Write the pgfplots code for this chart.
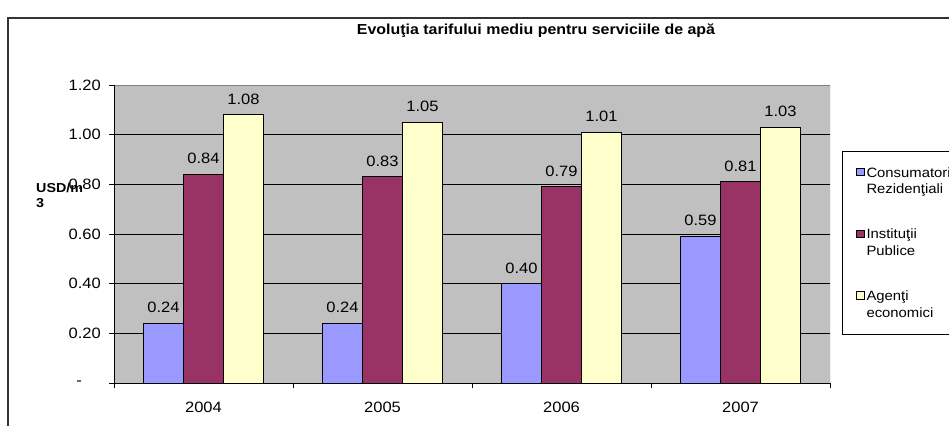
\documentclass[border=0pt]{standalone}
\usepackage{fontspec}
\setmainfont{Liberation Sans}[FakeStretch=1.1]
\usepackage{pgfplots}
\usepackage{pgfplotstable}
\pgfplotsset{compat=1.18}

\definecolor{rezid}{HTML}{9999FF}
\definecolor{inst}{HTML}{993366}
\definecolor{agent}{HTML}{FFFFCC}
\definecolor{plotbg}{HTML}{C0C0C0}
\definecolor{plotframe}{HTML}{808080}

\newcommand\tickfont{\fontsize{15bp}{18bp}\selectfont}
\newcommand\legfont{\fontsize{13.5bp}{16.5bp}\selectfont}

% average water tariff, USD/m3
\pgfplotstableread{
idx rez inst agent
0 0.24 0.84 1.08
1 0.24 0.83 1.05
2 0.40 0.79 1.01
3 0.59 0.81 1.03
}\tarife

% small square legend marker, level with the first line of a two-line entry
\pgfplotsset{
  sq legend/.style={legend image code/.code={%
      \draw[##1, draw=black, line width=0.6bp] (0bp,18bp) rectangle (7.5bp,25.5bp);}},
}

\begin{document}
\begin{tikzpicture}[x=1bp,y=1bp]
\useasboundingbox (0,0) rectangle (949,425);
\clip (0,0) rectangle (949,425);
\fill[white] (0,0) rectangle (949,425);
\draw[line width=1.5bp, black!80] (8,-5) -- (8,407) -- (960,407);
\node[font=\bfseries\fontsize{14.5bp}{17bp}\selectfont] at (536,394)
  {Evoluţia tarifului mediu pentru serviciile de apă};

\begin{axis}[
  at={(114bp,42bp)}, anchor=south west,
  scale only axis, width=716bp, height=298bp,
  xmin=-0.5, xmax=3.5, ymin=0, ymax=1.2,
  axis background/.style={fill=plotbg},
  axis line style={draw=none},
  ybar=0pt, bar width=40bp,
  tick align=outside, major tick length=5bp,
  tick style={black, line width=0.8bp},
  xtick={-0.5,0.5,1.5,2.5,3.5}, xticklabels={},
  extra x ticks={0,1,2,3},
  extra x tick labels={2004,2005,2006,2007},
  extra x tick style={major tick length=0pt, grid=none},
  xtick pos=left, ytick pos=left,
  ytick={0,0.2,0.4,0.6,0.8,1.0,1.2},
  yticklabels={{-\kern19bp},0.20,0.40,0.60,0.80,1.00,1.20},
  ymajorgrids, major grid style={black, line width=0.7bp},
  xticklabel style={font=\tickfont, inner sep=0pt, anchor=north, yshift=-19bp},
  yticklabel style={font=\tickfont, inner sep=0pt, anchor=east, xshift=-8bp},
  /pgf/number format/fixed,
  /pgf/number format/fixed zerofill,
  /pgf/number format/precision=2,
  /pgf/number format/assume math mode=true,
  nodes near coords,
  every node near coord/.append style={font=\tickfont, anchor=south,
      inner sep=0pt, yshift=10bp, black},
  legend style={at={(1.01676,0.77852)}, anchor=north west,
      draw=black, line width=0.8bp, fill=white, font=\legfont,
      inner xsep=14bp, inner ysep=14bp, row sep=30bp,
      cells={align=left, anchor=base west},
      /tikz/every even column/.append style={column sep=4.5bp}},
]
\addplot[fill=rezid, draw=black, line width=0.8bp, sq legend] table[x=idx, y=rez] {\tarife};
\addlegendentry{Consumatori\\Rezidenţiali}
\addplot[fill=inst, draw=black, line width=0.8bp, sq legend] table[x=idx, y=inst] {\tarife};
\addlegendentry{Instituţii\\Publice}
\addplot[fill=agent, draw=black, line width=0.8bp, sq legend] table[x=idx, y=agent] {\tarife};
\addlegendentry{Agenţi\\economici}
\draw[plotframe, line width=0.8bp] (rel axis cs:0,1) -- (rel axis cs:1,1) -- (rel axis cs:1,0);
\draw[black, line width=1bp] (rel axis cs:0,1) -- (rel axis cs:0,0) -- (rel axis cs:1,0);
\end{axis}

\node[anchor=west, align=left, inner sep=0pt,
      font=\bfseries\fontsize{13bp}{15bp}\selectfont] at (36,230) {USD/m\\3};
\end{tikzpicture}
\end{document}
